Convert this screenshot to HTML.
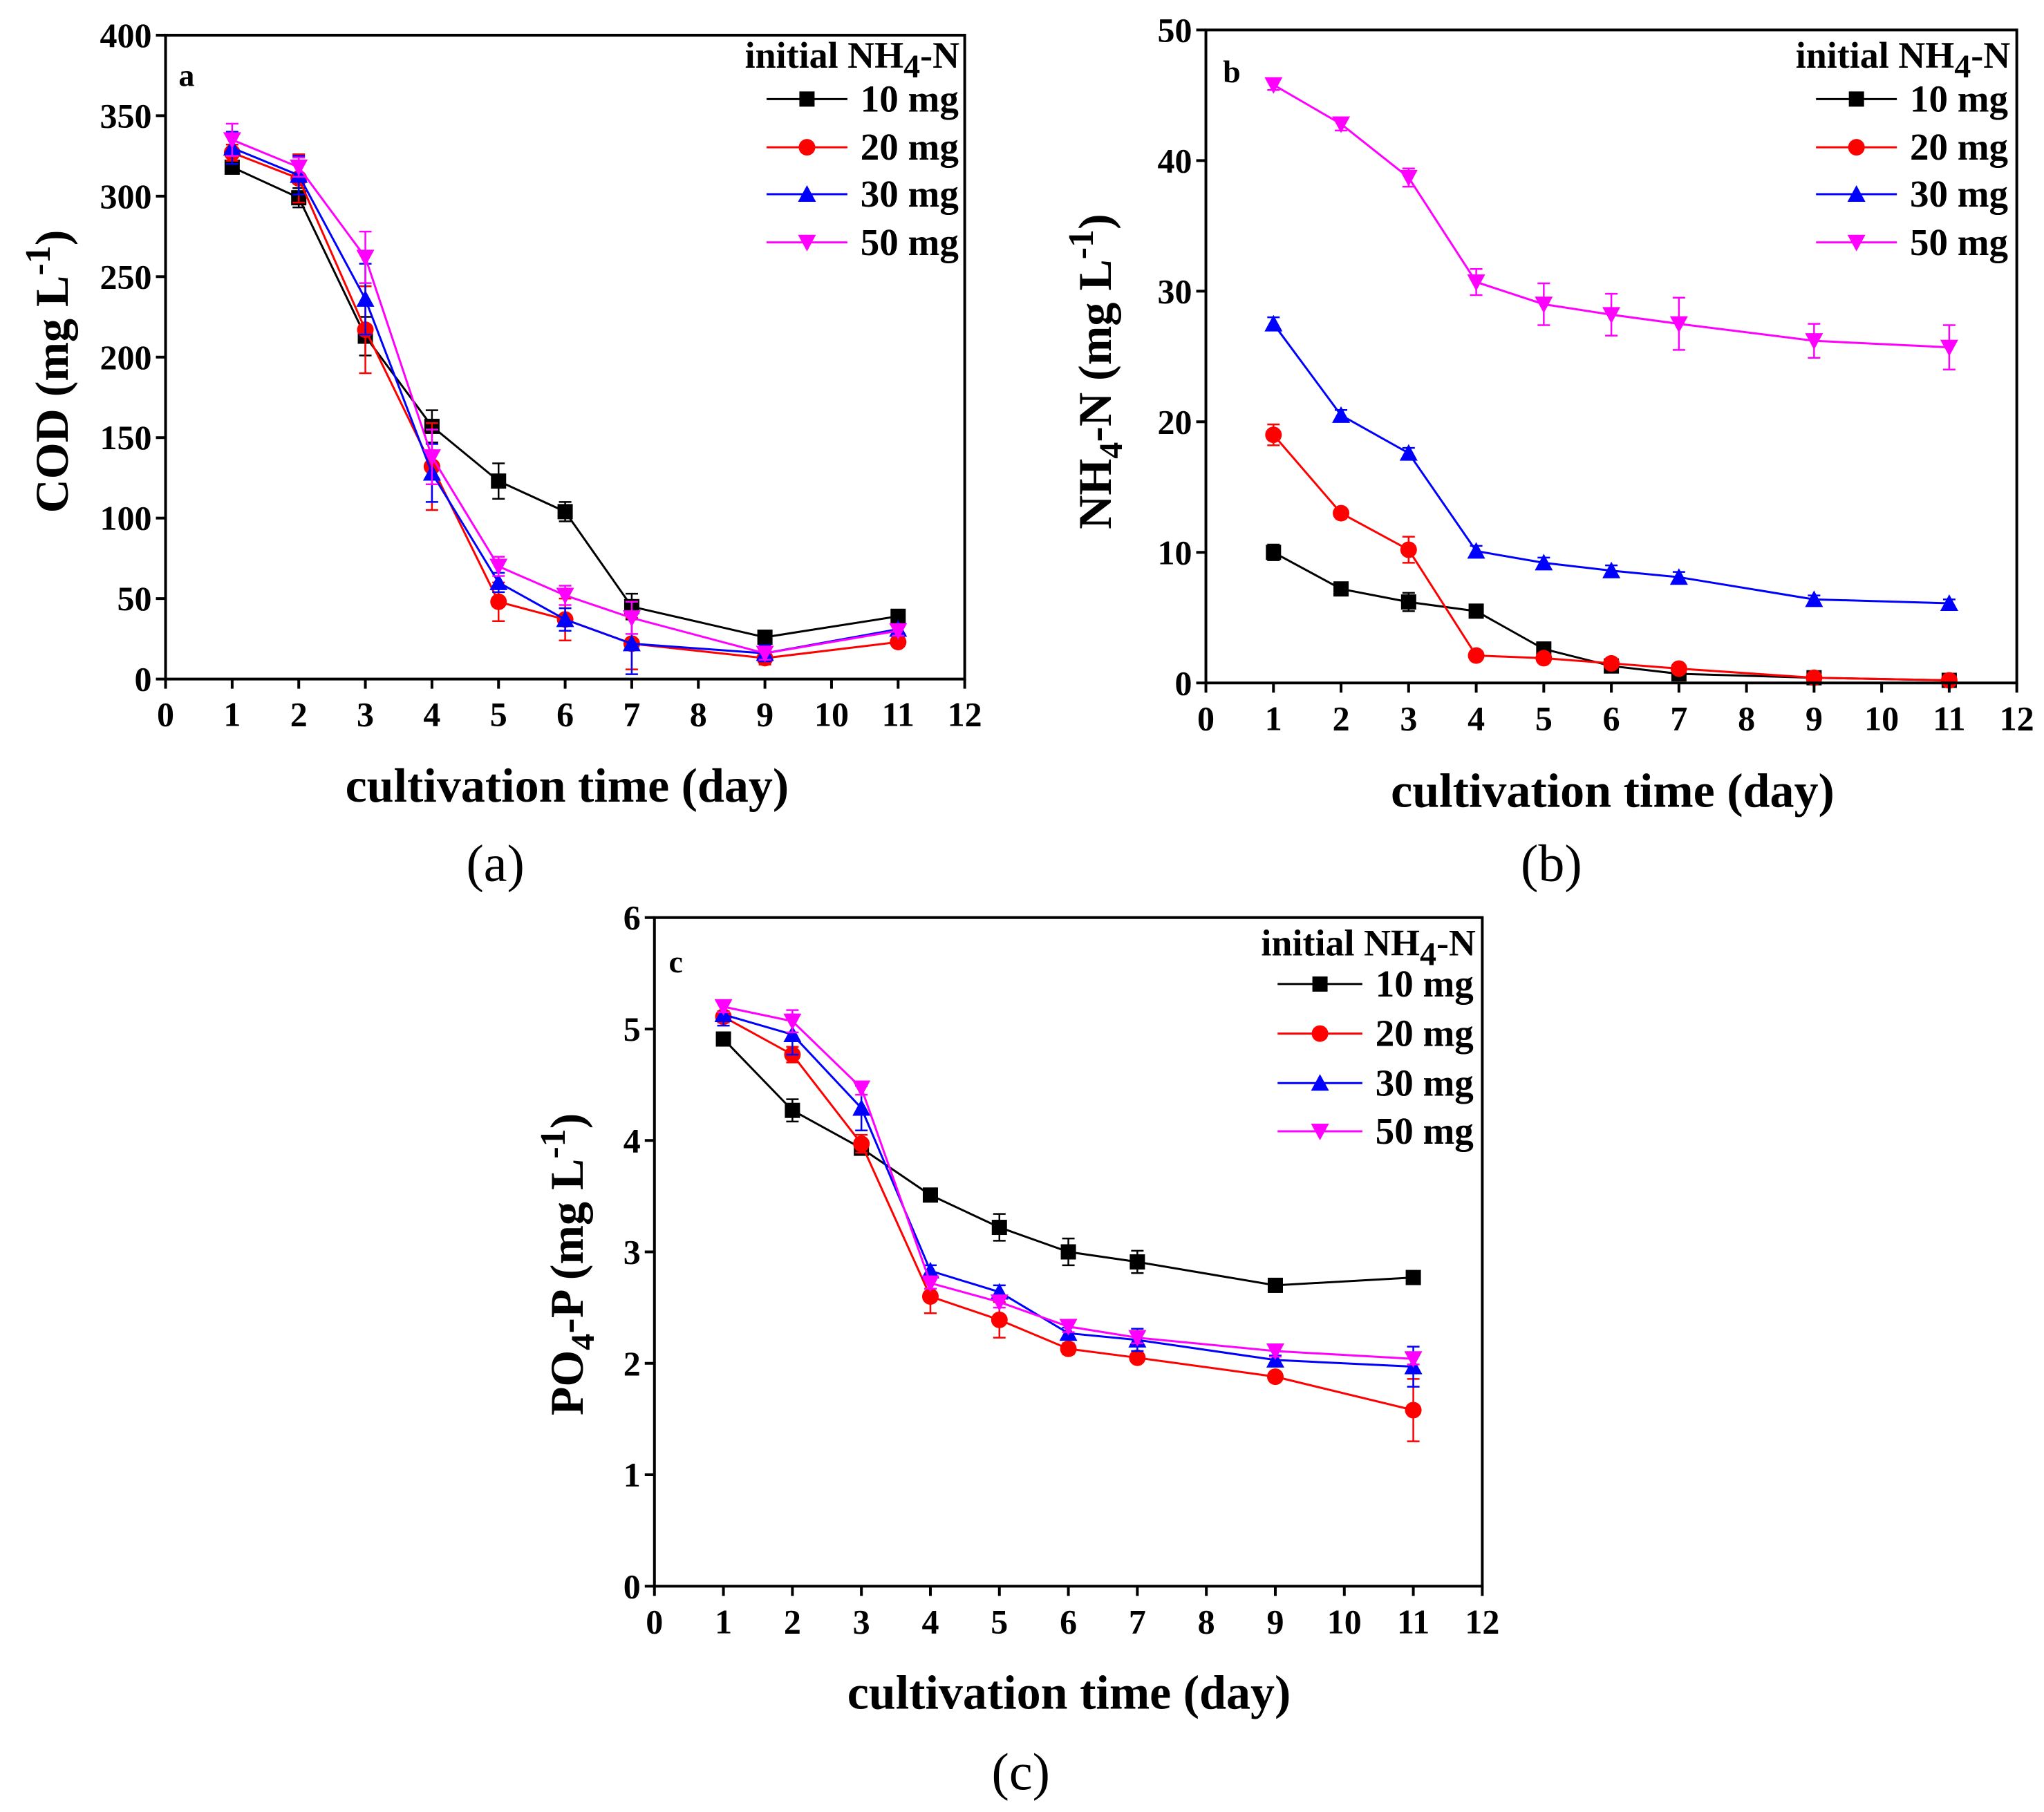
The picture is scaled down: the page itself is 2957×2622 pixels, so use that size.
<!DOCTYPE html>
<html><head><meta charset="utf-8">
<style>
html,body{margin:0;padding:0;background:#fff;}
svg{display:block;}
text{font-family:"Liberation Serif",serif;}
</style></head>
<body>
<svg id="fig" width="2957" height="2622" viewBox="0 0 2957 2622" xmlns="http://www.w3.org/2000/svg"></svg>
<script>
// ---- data ----
const days = [1,2,3,4,5,6,7,9,11];
const seriesNames = ["10 mg","20 mg","30 mg","50 mg"];
const colors = ["#000000","#ff0000","#0000ff","#ff00ff"];
const xTicks = [0,1,2,3,4,5,6,7,8,9,10,11,12];

const codTicks = [0,50,100,150,200,250,300,350,400];
const cod10 = [318,299,213,157,123,104,45,26,39];
const cod20 = [327,311,217,132,48,37,22,13,23];
const cod30 = [330,313,236,128,60,37,22,16,31];
const cod50 = [335,318,262,138,70,52,38,16,30];
const codErr10 = [4,6,12,10,11,6,8,4,3];
const codErr20 = [5,15,27,27,12,13,16,4,3];
const codErr30 = [10,12,22,18,6,7,19,5,3];
const codErr50 = [10,6,16,17,6,6,10,4,3];

const nhTicks = [0,10,20,30,40,50];
const nh10 = [10,7.2,6.2,5.5,2.6,1.3,0.7,0.4,0.2];
const nh20 = [19,13,10.2,2.1,1.9,1.5,1.1,0.4,0.2];
const nh30 = [27.5,20.5,17.6,10.1,9.2,8.6,8.1,6.4,6.1];
const nh50 = [45.8,42.8,38.7,30.7,29,28.2,27.5,26.2,25.7];
const nhErr10 = [0.6,0.3,0.7,0.5,0.3,0.2,0.2,0.1,0.1];
const nhErr20 = [0.8,0.3,1.0,0.2,0.2,0.2,0.2,0.1,0.1];
const nhErr30 = [0.5,0.4,0.4,0.4,0.4,0.4,0.4,0.3,0.3];
const nhErr50 = [0.4,0.5,0.7,1.0,1.6,1.6,2.0,1.3,1.7];

const poTicks = [0,1,2,3,4,5,6];
const po10 = [4.91,4.27,3.93,3.51,3.22,3.0,2.91,2.70,2.77];
const po20 = [5.11,4.77,3.97,2.60,2.39,2.13,2.05,1.88,1.58];
const po30 = [5.13,4.95,4.29,2.83,2.64,2.27,2.21,2.03,1.97];
const po50 = [5.20,5.07,4.47,2.72,2.55,2.33,2.23,2.11,2.04];
const poErr10 = [0.05,0.10,0.05,0.03,0.12,0.12,0.10,0.06,0.03];
const poErr20 = [0.05,0.07,0.08,0.15,0.16,0.05,0.04,0.04,0.28];
const poErr30 = [0.1,0.18,0.2,0.05,0.06,0.05,0.1,0.04,0.18];
const poErr50 = [0.05,0.1,0.06,0.05,0.05,0.05,0.05,0.05,0.05];

const S = 1.886;
const NS = "http://www.w3.org/2000/svg";
const svg = document.getElementById('fig');
function mk(tag, attrs, parent){
  const e = document.createElementNS(NS, tag);
  for (const k in attrs) e.setAttribute(k, attrs[k]);
  (parent||svg).appendChild(e);
  return e;
}
function marker(g, shape, x, y, c){
  const r = 11;
  let m;
  if (shape===0) m = mk('rect',{x:x-r,y:y-r,width:2*r,height:2*r,fill:c},g);
  else if (shape===1) m = mk('circle',{cx:x,cy:y,r:r+1,fill:c},g);
  else if (shape===2) m = mk('polygon',{points:`${x},${y-r-2} ${x+r+2},${y+r} ${x-r-2},${y+r}`,fill:c},g);
  else m = mk('polygon',{points:`${x},${y+r+2} ${x+r+2},${y-r} ${x-r-2},${y-r}`,fill:c},g);
  return m;
}

function panel(cfg){
  const L=cfg.box[0]*S, R=cfg.box[1]*S, T=cfg.box[2]*S, B=cfg.box[3]*S;
  const g = mk('g',{});
  
  
  const xs = v => L + (v-0)/(12-0)*(R-L);
  const ys = v => B - v/cfg.ymax*(B-T);
  cfg.series.forEach((vals,si)=>{
    const sg = mk('g',{},g);
    
    
    const pts = vals.map((v,i)=>xs(days[i])+','+ys(v)).join(' ');
    mk('polyline',{points:pts,fill:'none',stroke:colors[si],'stroke-width':3},sg);
    vals.forEach((v,i)=>{
      const e = cfg.errs[si][i], x = xs(days[i]);
      mk('line',{x1:x,y1:ys(v-e),x2:x,y2:ys(v+e),stroke:colors[si],'stroke-width':2.5},sg);
      mk('line',{x1:x-9,y1:ys(v-e),x2:x+9,y2:ys(v-e),stroke:colors[si],'stroke-width':2.5},sg);
      mk('line',{x1:x-9,y1:ys(v+e),x2:x+9,y2:ys(v+e),stroke:colors[si],'stroke-width':2.5},sg);
    });
    vals.forEach((v,i)=>{
      const m = marker(sg, si, xs(days[i]), ys(v), colors[si]);
      
      
    });
  });
  const fr = mk('rect',{x:L,y:T,width:R-L,height:B-T,fill:'none',stroke:'#000','stroke-width':4},g);
  
  
  xTicks.forEach(t=>{
    const x = xs(t);
    mk('line',{x1:x,y1:B,x2:x,y2:B+14,stroke:'#000','stroke-width':4},g);
    const tx = mk('text',{x:x,y:B+68,'font-size':50,'font-weight':'bold','text-anchor':'middle'},g);
    tx.textContent = t;
    
    
  });
  cfg.yticks.forEach(t=>{
    const y = ys(t);
    mk('line',{x1:L-14,y1:y,x2:L,y2:y,stroke:'#000','stroke-width':4},g);
    const tx = mk('text',{x:L-20,y:y+17,'font-size':50,'font-weight':'bold','text-anchor':'end'},g);
    tx.textContent = t;
    
    
  });
  const lt = mk('text',{x:cfg.letter[0]*S,y:cfg.letter[1]*S,'font-size':46,'font-weight':'bold'},g);
  lt.textContent = cfg.short;
  
  
  const xt = mk('text',{x:cfg.xt[0]*S,y:cfg.xt[1]*S,'font-size':70,'font-weight':'bold','text-anchor':'middle'},g);
  xt.textContent = 'cultivation time (day)';
  
  
  const yt = mk('text',{transform:`translate(${cfg.yt[0]*S},${cfg.yt[1]*S}) rotate(-90)`,'font-size':68,'font-weight':'bold','text-anchor':'middle'},g);
  yt.innerHTML = cfg.ytitle;
  
  
  const cp = mk('text',{x:cfg.cap[0]*S,y:cfg.cap[1]*S,'font-size':76,'text-anchor':'middle'},g);
  cp.textContent = '('+cfg.short+')';
  
  
  const lg = mk('g',{},g);
  
  
  const ti = mk('text',{x:cfg.leg.titleX*S,y:cfg.leg.titleY*S,'font-size':54,'font-weight':'bold','text-anchor':'end'},lg);
  ti.innerHTML = 'initial NH<tspan dy="14" font-size="48">4</tspan><tspan dy="-14">-N</tspan>';
  
  
  seriesNames.forEach((n,i)=>{
    const y = cfg.leg.ys[i]*S;
    const x1 = cfg.leg.x1*S, x2 = cfg.leg.x2*S;
    const eg = mk('g',{},lg);
    
    
    mk('line',{x1:x1,y1:y,x2:x2,y2:y,stroke:colors[i],'stroke-width':3},eg);
    marker(eg,i,(x1+x2)/2,y,colors[i]);
    const t = mk('text',{x:cfg.leg.tx*S,y:y+18,'font-size':55,'font-weight':'bold'},eg);
    t.textContent = n;
  });
}

panel({name:'panel-a-cod',short:'a',box:[127,740,27,521],ymax:400,yticks:codTicks,
  series:[cod10,cod20,cod30,cod50],errs:[codErr10,codErr20,codErr30,codErr50],
  letter:[137,66],xt:[435,615],yt:[52,285],cap:[380,676],
  ytitle:'COD (mg L<tspan dy="-26" font-size="52">-1</tspan><tspan dy="26">)</tspan>',
  leg:{titleX:736,titleY:52,x1:588,x2:650,tx:660,ys:[76,113,149,186]}});
panel({name:'panel-b-nh4',short:'b',box:[925,1547,23,524],ymax:50,yticks:nhTicks,
  series:[nh10,nh20,nh30,nh50],errs:[nhErr10,nhErr20,nhErr30,nhErr50],
  letter:[938,63],xt:[1237,619],yt:[852,285],cap:[1190,676],
  ytitle:'NH<tspan dy="16" font-size="48">4</tspan><tspan dy="-16">-N (mg L</tspan><tspan dy="-26" font-size="52">-1</tspan><tspan dy="26">)</tspan>',
  leg:{titleX:1542,titleY:52,x1:1393,x2:1455,tx:1465,ys:[76,113,149,186]}});
panel({name:'panel-c-po4',short:'c',box:[502,1137,704,1217],ymax:6,yticks:poTicks,
  series:[po10,po20,po30,po50],errs:[poErr10,poErr20,poErr30,poErr50],
  letter:[513,746],xt:[820,1311],yt:[447,970],cap:[783,1373],
  ytitle:'PO<tspan dy="16" font-size="48">4</tspan><tspan dy="-16">-P (mg L</tspan><tspan dy="-26" font-size="52">-1</tspan><tspan dy="26">)</tspan>',
  leg:{titleX:1132,titleY:733,x1:980,x2:1045,tx:1055,ys:[755,793,831,868]}});
</script>
</body></html>
